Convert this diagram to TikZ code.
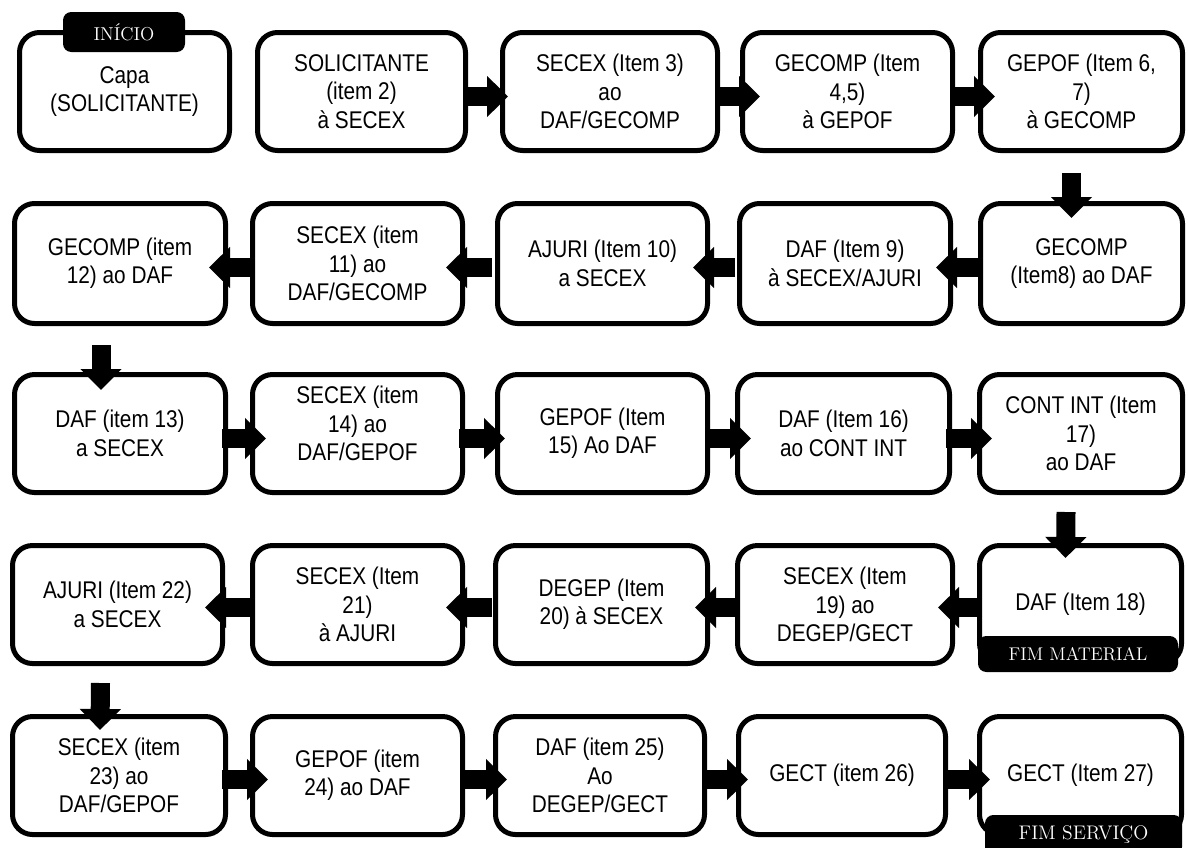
\documentclass[tikz,border=0pt]{standalone}
\usepackage{fontspec}
\setsansfont[FakeStretch=0.86]{Liberation Sans}
\usetikzlibrary{arrows.meta}

\tikzset{
  stepnode/.style={draw=black, line width=3pt, rounded corners=12pt, fill=white,
    align=center, inner sep=0pt,
    font=\sffamily\fontsize{14.5}{17}\selectfont},
  tagnode/.style={fill=black, rounded corners=5pt, inner sep=0pt,
    text=white, font=\rmfamily\fontsize{11}{13}\selectfont},
  barrow/.style={draw=black, line width=11.4pt,
    -{Triangle[width=24pt,length=12.6pt]}},
}

% process step: name, left, top, right, bottom (pixel grid), text
\newcommand\stepbox[6]{%
  \pgfmathsetmacro\bw{(#4-#2-5)*0.6}%
  \pgfmathsetmacro\bh{(#5-#3-5)*0.6}%
  \node[stepnode, minimum width=\bw pt, minimum height=\bh pt]
    (#1) at ({(#2+#4)/2},{(#3+#5)/2}) {#6};}
% black tag on a step
\newcommand\tagbox[7][]{%
  \pgfmathsetmacro\bw{(#5-#3)*0.6}%
  \pgfmathsetmacro\bh{(#6-#4)*0.6}%
  \node[tagnode, minimum width=\bw pt, minimum height=\bh pt, #1]
    (#2) at ({(#3+#5)/2},{(#4+#6)/2}) {#7};}

\begin{document}
\begin{tikzpicture}[x=0.6pt, y=-0.6pt]
\useasboundingbox (0,0) rectangle (1188,847);

% row 1
\stepbox{r1a}{17}{30}{232}{153}{Capa\\(SOLICITANTE)}
\stepbox{r1b}{255}{30}{468}{153}{SOLICITANTE\\(item 2)\\à SECEX}
\stepbox{r1c}{500}{30}{720}{153}{SECEX (Item 3)\\ao\\DAF/GECOMP}
\stepbox{r1d}{740}{30}{955}{153}{GECOMP (Item\\4,5)\\à GEPOF}
\stepbox{r1e}{978}{30}{1185}{153}{GEPOF (Item 6,\\7)\\à GECOMP}

% row 2
\stepbox{r2a}{12}{201}{228}{326}{GECOMP (item\\12) ao DAF}
\stepbox{r2b}{250}{201}{465}{326}{SECEX (item\\11) ao\\DAF/GECOMP}
\stepbox{r2c}{495}{201}{710}{326}{AJURI (Item 10)\\a SECEX}
\stepbox{r2d}{737}{201}{953}{326}{DAF (Item 9)\\à SECEX/AJURI}
\stepbox{r2e}{978}{201}{1185}{326}{GECOMP\\(Item8) ao DAF}

% row 3
\stepbox{r3a}{12}{372}{228}{495}{DAF (item 13)\\a SECEX}
\stepbox{r3b}{250}{372}{465}{495}{SECEX (item\\14) ao\\DAF/GEPOF\\[-5pt]\mbox{}}
\stepbox{r3c}{495}{372}{710}{495}{GEPOF (Item\\15) Ao DAF}
\stepbox{r3d}{735}{372}{952}{495}{DAF (Item 16)\\ao CONT INT}
\stepbox{r3e}{977}{372}{1185}{495}{CONT INT (Item\\17)\\ao DAF}

% row 4
\stepbox{r4a}{10}{543}{225}{666}{AJURI (Item 22)\\a SECEX}
\stepbox{r4b}{250}{543}{465}{666}{SECEX (Item\\21)\\à AJURI}
\stepbox{r4c}{493}{543}{710}{666}{DEGEP (Item\\20) à SECEX}
\stepbox{r4d}{735}{543}{955}{666}{SECEX (Item\\19) ao\\DEGEP/GECT}
\stepbox{r4e}{977}{543}{1184}{666}{DAF (Item 18)}

% row 5
\stepbox{r5a}{10}{714}{228}{837}{SECEX (item\\23) ao\\DAF/GEPOF}
\stepbox{r5b}{250}{714}{465}{837}{GEPOF (item\\24) ao DAF}
\stepbox{r5c}{493}{714}{707}{837}{DAF (item 25)\\Ao\\DEGEP/GECT}
\stepbox{r5d}{736}{714}{948}{837}{GECT (item 26)}
\stepbox{r5e}{977}{714}{1184}{837}{GECT (Item 27)}

% flow arrows, row 1 (left to right)
\draw[barrow] ([shift={(-5,5)}]r1b.east) -- ([shift={(8,5)}]r1c.west);
\draw[barrow] ([shift={(-5,5)}]r1c.east) -- ([shift={(20,5)}]r1d.west);
\draw[barrow] ([shift={(-5,5)}]r1d.east) -- ([shift={(17,5)}]r1e.west);
\draw[barrow] ([shift={(-10,20)}]r1e.south) -- ([shift={(-10,17)}]r2e.north);

% row 2 (right to left)
\draw[barrow] ([shift={(4,4)}]r2e.west) -- ([shift={(-17,4)}]r2d.east);
\draw[barrow] ([shift={(-2,4)}]r2d.west) -- ([shift={(-17,4)}]r2c.east);
\draw[barrow] ([shift={(-3,4)}]r2c.west) -- ([shift={(-19,4)}]r2b.east);
\draw[barrow] ([shift={(1,4)}]r2b.west) -- ([shift={(-19,4)}]r2a.east);
\draw[barrow] ([shift={(-19,19)}]r2a.south) -- ([shift={(-19,18)}]r3a.north);

% row 3 (left to right)
\draw[barrow] ([shift={(-6,5)}]r3a.east) -- ([shift={(16,5)}]r3b.west);
\draw[barrow] ([shift={(-6,5)}]r3b.east) -- ([shift={(10,5)}]r3c.west);
\draw[barrow] ([shift={(-5,5)}]r3c.east) -- ([shift={(16,5)}]r3d.west);
\draw[barrow] ([shift={(-6,5)}]r3d.east) -- ([shift={(15,5)}]r3e.west);
\draw[barrow] ([shift={(-15,17)}]r3e.south) -- ([shift={(-15,15)}]r4e.north);

% row 4 (right to left)
\draw[barrow] ([shift={(5,3)}]r4e.west) -- ([shift={(-17,3)}]r4d.east);
\draw[barrow] ([shift={(5,3)}]r4d.west) -- ([shift={(-15,3)}]r4c.east);
\draw[barrow] ([shift={(-1,3)}]r4c.west) -- ([shift={(-19,3)}]r4b.east);
\draw[barrow] ([shift={(1,3)}]r4b.west) -- ([shift={(-20,3)}]r4a.east);
\draw[barrow] ([shift={(-17,17)}]r4a.south) -- ([shift={(-19,16)}]r5a.north);

% row 5 (left to right)
\draw[barrow] ([shift={(-6,4)}]r5a.east) -- ([shift={(18,4)}]r5b.west);
\draw[barrow] ([shift={(-3,4)}]r5b.east) -- ([shift={(14,4)}]r5c.west);
\draw[barrow] ([shift={(-4,4)}]r5c.east) -- ([shift={(12,4)}]r5d.west);
\draw[barrow] ([shift={(-3,4)}]r5d.east) -- ([shift={(13,4)}]r5e.west);

% start and end tags
\tagbox[font=\rmfamily\fontsize{11.2}{13}\selectfont]{tstart}{63}{12}{185}{52}{INÍCIO}
\tagbox{tmat}{978}{636}{1178}{672}{FIM MATERIAL}
\tagbox[font=\rmfamily\fontsize{11.8}{13}\selectfont]{tserv}{985}{815}{1182}{855}{FIM SERVIÇO}
\end{tikzpicture}
\end{document}
